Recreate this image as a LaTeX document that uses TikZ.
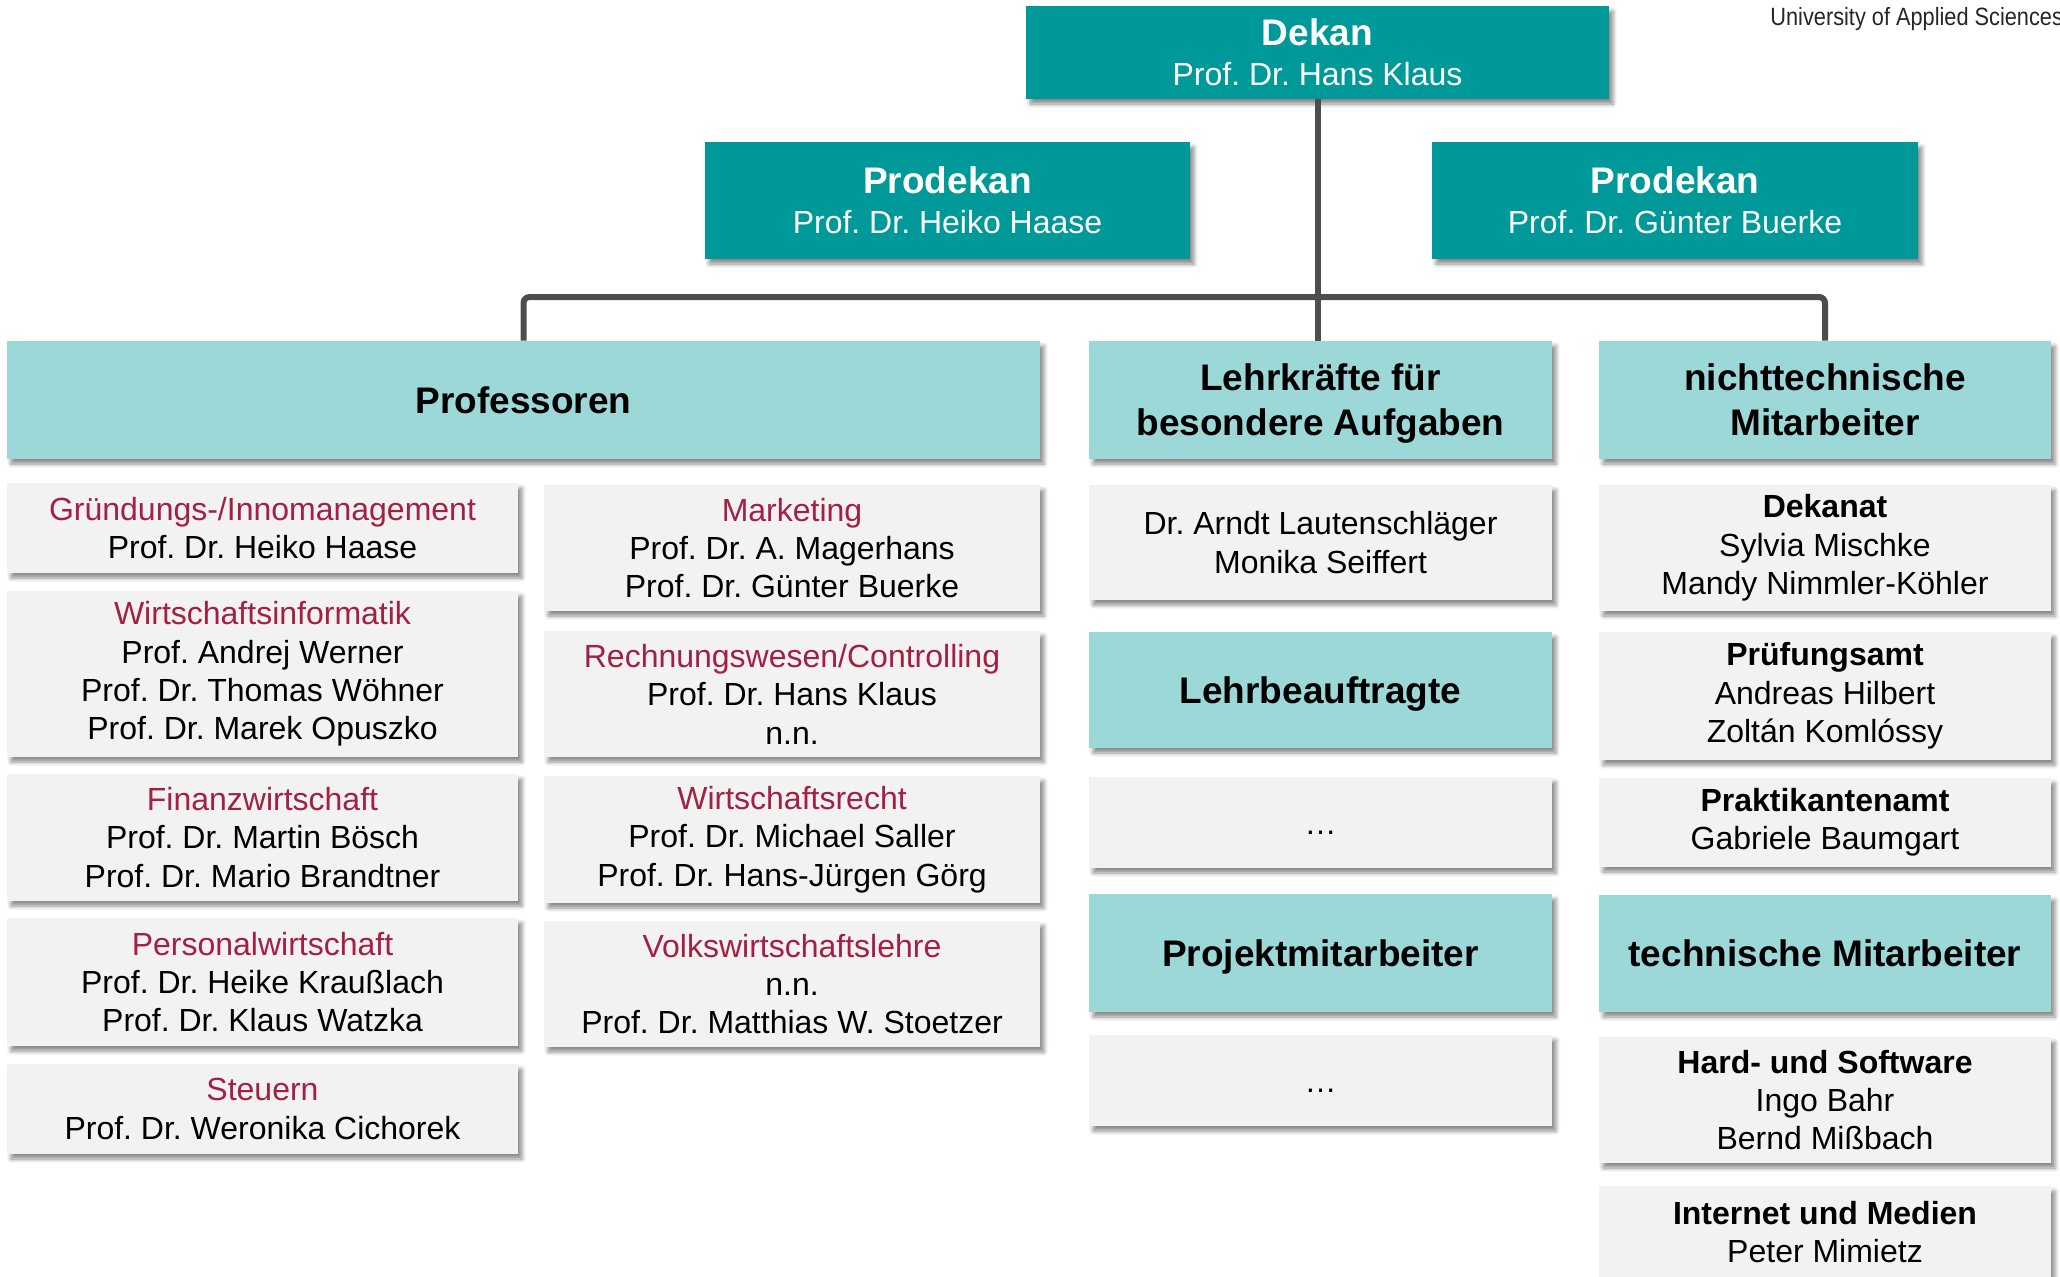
\documentclass[tikz,border=0pt]{standalone}
\usepackage{fontspec}
\setmainfont{Liberation Sans}
\usepackage{graphicx}
\usetikzlibrary{shadows.blur}
\frenchspacing

\definecolor{fhteal}{RGB}{0,153,153}
\definecolor{fhlight}{RGB}{157,216,216}
\definecolor{fhgray}{RGB}{242,242,242}
\definecolor{fhred}{RGB}{163,32,66}
\definecolor{fhline}{RGB}{77,77,77}
\newcommand{\fach}[1]{\textcolor{fhred}{#1}}

\begin{document}
\begin{tikzpicture}[x=0.5pt,y=-0.5pt,
  box/.style={inner sep=0pt, align=center,
    blur shadow={shadow xshift=2pt, shadow yshift=-2.5pt, shadow blur radius=2pt, shadow opacity=45}},
  leitung/.style={box, fill=fhteal, text=white, font=\fontsize{16}{20}\selectfont},
  gruppe/.style={box, fill=fhlight, text depth=0pt, font=\fontsize{18.5}{22.5}\selectfont\bfseries},
  eintrag/.style={box, fill=fhgray, font=\fontsize{16}{19.2}\selectfont},
  leer/.style={eintrag, text height=12pt, text depth=0pt},
  spalteA/.style={minimum width=255.5pt},
  spalteB/.style={minimum width=248pt},
  spalteC/.style={minimum width=231.5pt},
  spalteD/.style={minimum width=226pt},
  linie/.style={draw=fhline, line width=3pt}]
\useasboundingbox (0,0) rectangle (2060,1276);
% Kopf
\node [anchor=base west, inner sep=0pt, font=\fontsize{12.5}{15}\selectfont, text=black!85] (hs) at (1770,25)
  {\scalebox{0.87}[1]{University of Applied Sciences}};
%
\node [leitung, minimum width=291.5pt, minimum height=46.5pt] (dekan) at (1317.5,52.5)
  {{\fontsize{18.5}{22}\selectfont\bfseries Dekan}\\Prof. Dr. Hans Klaus};
\node [leitung, minimum width=242.5pt, minimum height=58.5pt] (prodekanA) at (947.5,200.5)
  {{\fontsize{18.5}{22}\selectfont\bfseries Prodekan}\\Prof. Dr. Heiko Haase};
\node [leitung, minimum width=243pt, minimum height=58.5pt] (prodekanB) at (1675,200.5)
  {{\fontsize{18.5}{22}\selectfont\bfseries Prodekan}\\Prof. Dr. Günter Buerke};
%
\node [gruppe, minimum width=516.5pt, minimum height=59pt] (prof) at (523.5,400) {Professoren};
\node [gruppe, spalteC, minimum height=59pt] (lehr) at (1320.5,400) {Lehrkräfte für\\besondere Aufgaben};
\node [gruppe, spalteD, minimum height=59pt] (nicht) at (1825,400) {nichttechnische\\Mitarbeiter};
%
\coordinate (knoten) at (1318,297);
\draw [linie] (dekan.south) -- (dekan.south |- lehr.north);
\draw [linie, rounded corners=3pt] (prof.north) |- (knoten) -| (nicht.north);
% Professoren, links
\node [eintrag, spalteA, minimum height=45pt] (gruendung) at (262.5,528)
  {\fach{Gründungs-/Innomanagement}\\Prof. Dr. Heiko Haase};
\node [eintrag, spalteA, minimum height=83pt] (winf) at (262.5,674)
  {\fach{Wirtschaftsinformatik}\\Prof. Andrej Werner\\Prof. Dr. Thomas Wöhner\\Prof. Dr. Marek Opuszko};
\node [eintrag, spalteA, minimum height=63.5pt] (finanz) at (262.5,837.5)
  {\fach{Finanzwirtschaft}\\Prof. Dr. Martin Bösch\\Prof. Dr. Mario Brandtner};
\node [eintrag, spalteA, minimum height=64pt] (personal) at (262.5,982)
  {\fach{Personalwirtschaft}\\Prof. Dr. Heike Kraußlach\\Prof. Dr. Klaus Watzka};
\node [eintrag, spalteA, minimum height=45pt] (steuern) at (262.5,1109)
  {\fach{Steuern}\\Prof. Dr. Weronika Cichorek};
% Professoren, rechts
\node [eintrag, spalteB, minimum height=63pt] (marketing) at (792,548)
  {\fach{Marketing}\\Prof. Dr. A. Magerhans\\Prof. Dr. Günter Buerke};
\node [eintrag, spalteB, minimum height=63pt] (rewe) at (792,694)
  {\fach{Rechnungswesen/Controlling}\\Prof. Dr. Hans Klaus\\n.n.};
\node [eintrag, spalteB, minimum height=63.5pt] (recht) at (792,839.5)
  {\fach{Wirtschaftsrecht}\\Prof. Dr. Michael Saller\\Prof. Dr. Hans-Jürgen Görg};
\node [eintrag, spalteB, minimum height=63pt] (vwl) at (792,984)
  {\fach{Volkswirtschaftslehre}\\n.n.\\Prof. Dr. Matthias W. Stoetzer};
% Lehrkraefte
\node [eintrag, spalteC, minimum height=57.5pt] (lehrkraft) at (1320.5,542.5)
  {Dr. Arndt Lautenschläger\\Monika Seiffert};
\node [gruppe, spalteC, minimum height=58pt] (beauftragte) at (1320.5,690) {Lehrbeauftragte};
\node [leer, spalteC, minimum height=45.5pt] (beauftragteN) at (1320.5,822.5) {…};
\node [gruppe, spalteC, minimum height=59pt] (projekt) at (1320.5,953) {Projektmitarbeiter};
\node [leer, spalteC, minimum height=45.5pt] (projektN) at (1320.5,1080.5) {…};
% Mitarbeiter
\node [eintrag, spalteD, minimum height=63pt] (dekanat) at (1825,548)
  {\textbf{Dekanat}\\Sylvia Mischke\\Mandy Nimmler-Köhler};
\node [eintrag, spalteD, minimum height=64pt] (pruefung) at (1825,696)
  {\textbf{Prüfungsamt}\\Andreas Hilbert\\Zoltán Komlóssy};
\node [eintrag, spalteD, minimum height=44.5pt] (praktikum) at (1825,822.5)
  {\textbf{Praktikantenamt}\\Gabriele Baumgart};
\node [gruppe, spalteD, minimum height=58.5pt] (technik) at (1825,953.5) {technische Mitarbeiter};
\node [eintrag, spalteD, minimum height=63pt] (hardware) at (1825,1100)
  {\textbf{Hard- und Software}\\Ingo Bahr\\Bernd Mißbach};
\node [eintrag, spalteD, minimum height=46pt] (medien) at (1825,1232)
  {\textbf{Internet und Medien}\\Peter Mimietz};
%
\end{tikzpicture}
\end{document}
